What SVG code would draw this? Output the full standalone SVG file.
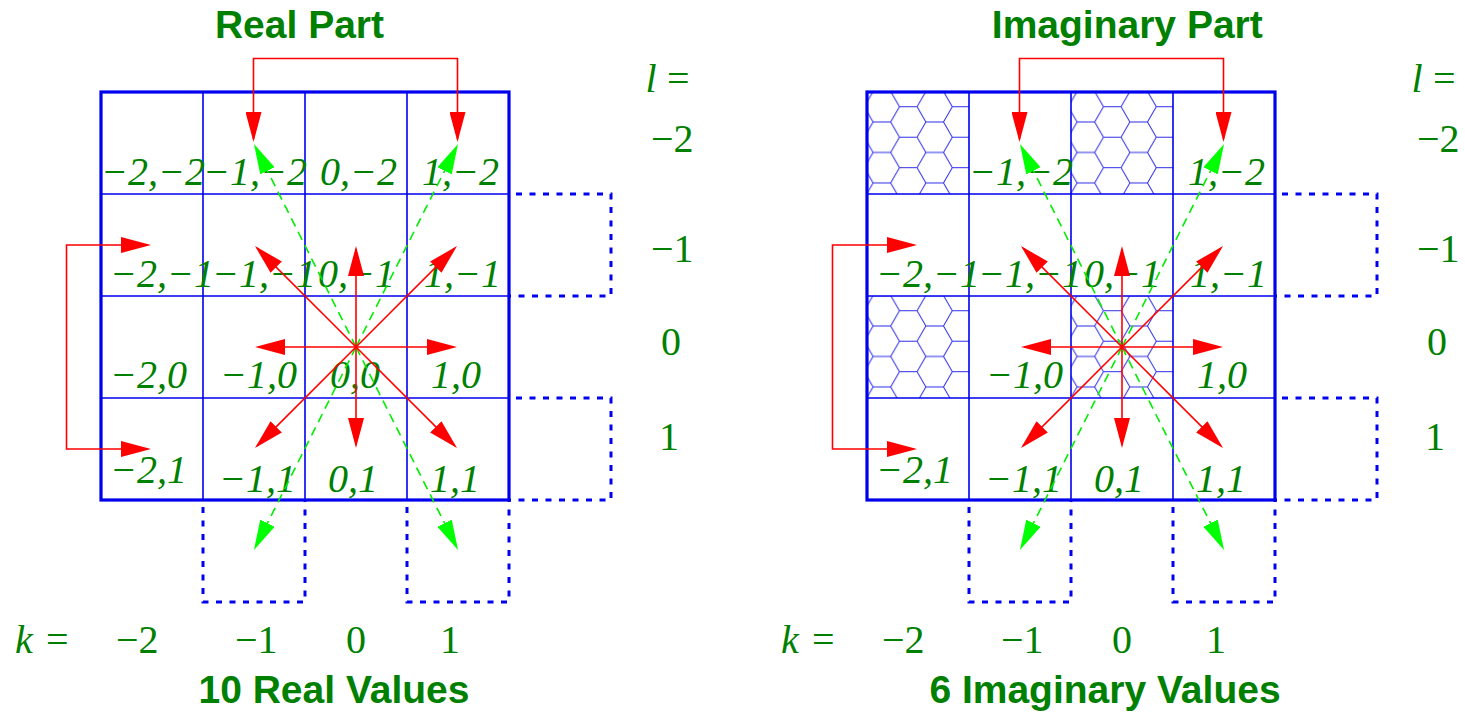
<svg xmlns="http://www.w3.org/2000/svg" width="1465" height="713" viewBox="0 0 1465 713">
<style>
.lab{font-family:"Liberation Serif",serif;font-style:italic;font-size:40px;fill:#008000}
.num{font-family:"Liberation Serif",serif;font-size:40px;fill:#008000}
.it{font-style:italic}
.ttl{font-family:"Liberation Sans",sans-serif;font-weight:bold;font-size:39px;fill:#008000;text-anchor:middle}
.outer{fill:none;stroke:#0000ee;stroke-width:3.2}
.inner{fill:none;stroke:#0000ee;stroke-width:1.6}
.dbox{fill:none;stroke:#0000ee;stroke-width:3;stroke-dasharray:6 7.5;stroke-dashoffset:6.5}
.red{fill:none;stroke:#ff0000;stroke-width:1.6;marker-end:url(#ar)}
.brk{fill:none;stroke:#ff0000;stroke-width:1.6;marker-start:url(#ar);marker-end:url(#ar)}
.grn{fill:none;stroke:#00ee00;stroke-width:1.6;stroke-dasharray:9 6;marker-end:url(#ag)}
</style>
<defs>
<marker id="ar" viewBox="0 0 30 16" refX="27" refY="8" markerWidth="30" markerHeight="16" markerUnits="userSpaceOnUse" orient="auto-start-reverse"><path d="M0,0 L30,8 L0,16 Z" fill="#ff0000"/></marker>
<marker id="ag" viewBox="0 0 30 16" refX="27" refY="8" markerWidth="30" markerHeight="16" markerUnits="userSpaceOnUse" orient="auto"><path d="M0,0 L30,8 L0,16 Z" fill="#00ff00"/></marker>
<pattern id="hex" patternUnits="userSpaceOnUse" x="-2.7" y="-0.5" width="52.8" height="30.48">
<path d="M0,15.24 L8.8,0 L26.4,0 L35.2,15.24 L26.4,30.48 L8.8,30.48 Z M35.2,15.24 L52.8,15.24" fill="none" stroke="#2a2ae6" stroke-width="1"/>
</pattern>
</defs>
<rect width="1465" height="713" fill="#ffffff"/>

<g id="titles">
<text class="ttl" x="299.5" y="38">Real Part</text>
<text class="ttl" x="1127.3" y="38">Imaginary Part</text>
<text class="ttl" x="334" y="703">10 Real Values</text>
<text class="ttl" x="1105" y="703">6 Imaginary Values</text>
</g>

<!-- LEFT FIGURE -->
<g id="real-part">
<g id="real-grid">
<rect class="outer" x="101" y="92" width="408" height="408"/>
<path class="inner" d="M203,92 V500 M305,92 V500 M407,92 V500 M101,194 H509 M101,296 H509 M101,398 H509"/>
<path class="dbox" d="M509,194 H611 V296 H509"/>
<path class="dbox" d="M509,398 H611 V500 H509"/>
<path class="dbox" d="M203,500 V602 H305 V500"/>
<path class="dbox" d="M407,500 V602 H509 V500"/>
</g>
<g id="real-labels">
<text class="lab" x="101" y="185">−2,−2</text>
<text class="lab" x="203" y="185">−1,−2</text>
<text class="lab" x="320" y="185">0,−2</text>
<text class="lab" x="422" y="185">1,−2</text>
<text class="lab" x="110" y="287">−2,−1</text>
<text class="lab" x="212" y="287">−1,−1</text>
<text class="lab" x="318" y="287">0,−1</text>
<text class="lab" x="424" y="287">1,−1</text>
<text class="lab" x="110" y="388">−2,0</text>
<text class="lab" x="220" y="388">−1,0</text>
<text class="lab" x="330" y="388">0,0</text>
<text class="lab" x="431" y="388">1,0</text>
<text class="lab" x="110" y="483">−2,1</text>
<text class="lab" x="219" y="492">−1,1</text>
<text class="lab" x="328" y="492">0,1</text>
<text class="lab" x="430" y="492">1,1</text>
</g>
<g id="real-axes">
<text class="num" y="653"><tspan class="it" x="15">k</tspan><tspan x="46">=</tspan></text>
<text class="num" x="116" y="653">−2</text>
<text class="num" x="235" y="653">−1</text>
<text class="num" x="346" y="653">0</text>
<text class="num" x="440" y="653">1</text>
<text class="num" y="92"><tspan class="it" x="645.5">l</tspan><tspan x="667">=</tspan></text>
<text class="num" x="651" y="152">−2</text>
<text class="num" x="651" y="262">−1</text>
<text class="num" x="661" y="355">0</text>
<text class="num" x="659" y="450">1</text>
</g>
<g id="real-connectors">
<path class="grn" d="M356,347 L255.3,146.7"/>
<path class="grn" d="M356,347 L456.7,146.7"/>
<path class="grn" d="M356,347 L255.3,547.3"/>
<path class="grn" d="M356,347 L456.7,547.3"/>
<path class="red" d="M356,347 H258"/>
<path class="red" d="M356,347 H454"/>
<path class="red" d="M356,347 V249"/>
<path class="red" d="M356,347 V445"/>
<path class="red" d="M356,347 L257.1,248.1"/>
<path class="red" d="M356,347 L454.9,248.1"/>
<path class="red" d="M356,347 L257.1,445.9"/>
<path class="red" d="M356,347 L454.9,445.9"/>
<path class="brk" d="M253.5,139 V58.5 H457.5 V139"/>
<path class="brk" d="M148,245 H66.5 V449 H148"/>
</g>
</g>

<!-- RIGHT FIGURE -->
<g id="imag-part" transform="translate(766,0)">
<g id="imag-hex">
<g transform="translate(101,92)"><rect width="102" height="102" fill="url(#hex)"/></g>
<g transform="translate(305,92)"><rect width="102" height="102" fill="url(#hex)"/></g>
<g transform="translate(101,296)"><rect width="102" height="102" fill="url(#hex)"/></g>
<g transform="translate(305,296)"><rect width="102" height="102" fill="url(#hex)"/></g>
</g>
<g id="imag-grid">
<rect class="outer" x="101" y="92" width="408" height="408"/>
<path class="inner" d="M203,92 V500 M305,92 V500 M407,92 V500 M101,194 H509 M101,296 H509 M101,398 H509"/>
<path class="dbox" d="M509,194 H611 V296 H509"/>
<path class="dbox" d="M509,398 H611 V500 H509"/>
<path class="dbox" d="M203,500 V602 H305 V500"/>
<path class="dbox" d="M407,500 V602 H509 V500"/>
</g>
<g id="imag-labels">
<text class="lab" x="203" y="185">−1,−2</text>
<text class="lab" x="422" y="185">1,−2</text>
<text class="lab" x="110" y="287">−2,−1</text>
<text class="lab" x="212" y="287">−1,−1</text>
<text class="lab" x="318" y="287">0,−1</text>
<text class="lab" x="424" y="287">1,−1</text>
<text class="lab" x="220" y="388">−1,0</text>
<text class="lab" x="431" y="388">1,0</text>
<text class="lab" x="110" y="483">−2,1</text>
<text class="lab" x="219" y="492">−1,1</text>
<text class="lab" x="328" y="492">0,1</text>
<text class="lab" x="430" y="492">1,1</text>
</g>
<g id="imag-axes">
<text class="num" y="653"><tspan class="it" x="15">k</tspan><tspan x="46">=</tspan></text>
<text class="num" x="116" y="653">−2</text>
<text class="num" x="235" y="653">−1</text>
<text class="num" x="346" y="653">0</text>
<text class="num" x="440" y="653">1</text>
<text class="num" y="92"><tspan class="it" x="645.5">l</tspan><tspan x="667">=</tspan></text>
<text class="num" x="651" y="152">−2</text>
<text class="num" x="651" y="262">−1</text>
<text class="num" x="661" y="355">0</text>
<text class="num" x="659" y="450">1</text>
</g>
<g id="imag-connectors">
<path class="grn" d="M356,347 L255.3,146.7"/>
<path class="grn" d="M356,347 L456.7,146.7"/>
<path class="grn" d="M356,347 L255.3,547.3"/>
<path class="grn" d="M356,347 L456.7,547.3"/>
<path class="red" d="M356,347 H258"/>
<path class="red" d="M356,347 H454"/>
<path class="red" d="M356,347 V249"/>
<path class="red" d="M356,347 V445"/>
<path class="red" d="M356,347 L257.1,248.1"/>
<path class="red" d="M356,347 L454.9,248.1"/>
<path class="red" d="M356,347 L257.1,445.9"/>
<path class="red" d="M356,347 L454.9,445.9"/>
<path class="brk" d="M253.5,139 V58.5 H457.5 V139"/>
<path class="brk" d="M148,245 H66.5 V449 H148"/>
</g>
</g>
</svg>
